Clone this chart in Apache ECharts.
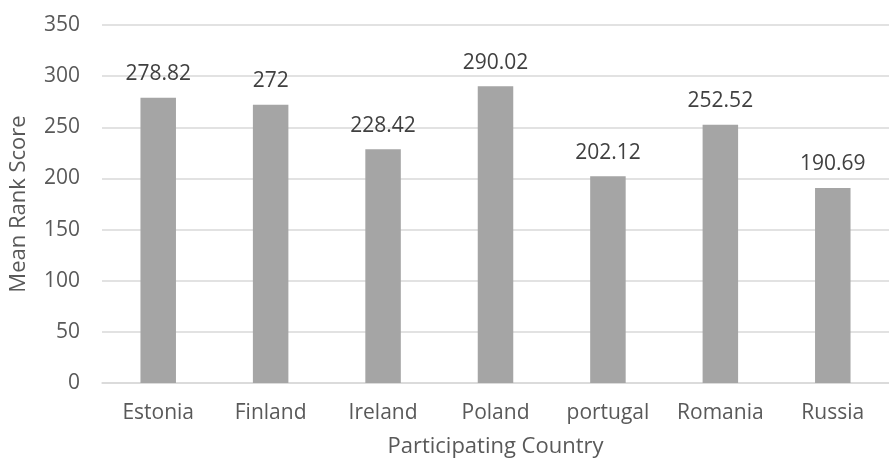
<!DOCTYPE html>
<html>
<head>
<meta charset="utf-8">
<script src="https://cdn.jsdelivr.net/npm/echarts@6/dist/echarts.min.js"></script>
<style>
html,body{margin:0;padding:0;background:#fff;}
#c{width:889px;height:464px;}
</style>
</head>
<body>
<div id="c"></div>
<script>
const categories = ["Estonia","Finland","Ireland","Poland","portugal","Romania","Russia"];
const values = [278.82, 272, 228.42, 290.02, 202.12, 252.52, 190.69];
const yTicks = {min: 0, max: 350, interval: 50};
const xTitle = "Participating Country";
const yTitle = "Mean Rank Score";

const FONT = "Open Sans";
const chart = echarts.init(document.getElementById('c'));
chart.setOption({
  animation: false,
  backgroundColor: '#ffffff',
  textStyle: {fontFamily: FONT},
  grid: {left: 102, top: 25, bottom: 81, width: 798, containLabel: false},
  xAxis: {
    type: 'category',
    data: categories,
    axisLine: {show: true, lineStyle: {color: '#d9d9d9', width: 1.5}},
    axisTick: {show: false},
    axisLabel: {color: '#595959', fontSize: 21, fontFamily: FONT, margin: 20, interval: 0, hideOverlap: false},
    name: xTitle,
    nameLocation: 'middle',
    nameGap: 53,
    nameTextStyle: {color: '#595959', fontSize: 22, fontFamily: FONT}
  },
  yAxis: {
    type: 'value',
    min: yTicks.min, max: yTicks.max, interval: yTicks.interval,
    axisLine: {show: false},
    axisTick: {show: false},
    splitLine: {lineStyle: {color: '#d9d9d9', width: 1.5}},
    axisLabel: {color: '#595959', fontSize: 21, fontFamily: FONT, margin: 22},
    name: yTitle,
    nameLocation: 'middle',
    nameGap: 72,
    nameRotate: 90,
    nameTextStyle: {color: '#595959', fontSize: 22, fontFamily: FONT}
  },
  series: [{
    type: 'bar',
    data: values,
    barWidth: 35.5,
    itemStyle: {color: '#a5a5a5'},
    label: {
      show: true,
      position: 'top',
      distance: 13,
      color: '#404040',
      fontSize: 21,
      fontFamily: FONT
    }
  }]
});
</script>
</body>
</html>
